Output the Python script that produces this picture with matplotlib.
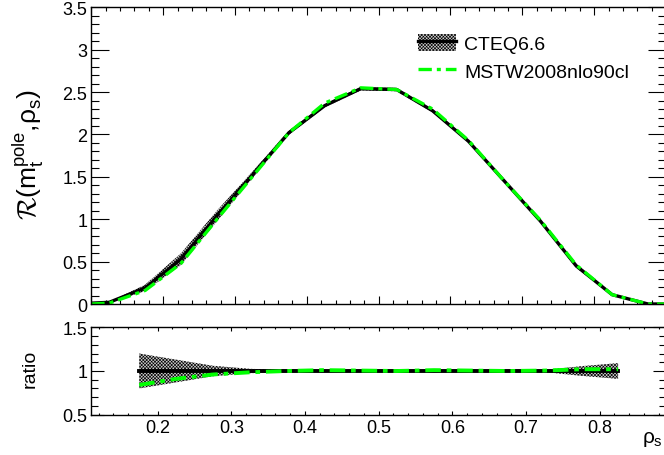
"""
CTEQ6.6 vs MSTW2008nlo90cl: R(m_t^pole, rho_s) with ratio panel.
Run: python plot.py  ->  out.png
"""
import matplotlib
matplotlib.use("Agg")
import matplotlib.pyplot as plt
from matplotlib.patches import Patch
from matplotlib.lines import Line2D
from matplotlib.ticker import MultipleLocator, FuncFormatter

# --- data ---
rho = [0.1, 0.125, 0.175, 0.225, 0.275, 0.325, 0.375, 0.425, 0.475, 0.525,
       0.575, 0.625, 0.675, 0.725, 0.775, 0.825, 0.875, 0.9]
cteq = [0.01, 0.02, 0.19, 0.53, 1.04, 1.53, 2.02, 2.34, 2.54, 2.53,
        2.28, 1.92, 1.45, 0.98, 0.45, 0.11, 0.0, 0.0]
cteq_relerr = [0.20, 0.20, 0.20, 0.13, 0.06, 0.025, 0.012, 0.008, 0.008, 0.008,
               0.008, 0.008, 0.008, 0.012, 0.055, 0.09, 0.09, 0.09]
mstw = [0.0, 0.01, 0.16, 0.48, 1.00, 1.51, 2.02, 2.37, 2.55, 2.53,
        2.30, 1.93, 1.45, 0.99, 0.46, 0.11, 0.0, 0.0]

rho_ratio = [0.175, 0.225, 0.275, 0.325, 0.375, 0.425, 0.475, 0.525,
             0.575, 0.625, 0.675, 0.725, 0.775, 0.825]
ratio_err = [0.20, 0.13, 0.06, 0.025, 0.012, 0.008, 0.008, 0.008,
             0.008, 0.008, 0.008, 0.012, 0.055, 0.09]
ratio_mstw = [0.84, 0.91, 0.96, 0.985, 1.0, 1.01, 1.005, 1.0,
              1.01, 1.005, 1.0, 1.005, 1.02, 1.02]

# --- style ---
plt.rcParams["font.family"] = "Liberation Sans"
plt.rcParams["mathtext.fontset"] = "custom"
plt.rcParams["mathtext.rm"] = "Liberation Sans"
plt.rcParams["mathtext.it"] = "Liberation Sans"
plt.rcParams["mathtext.bf"] = "Liberation Sans:bold"
plt.rcParams["mathtext.cal"] = "cmsy10"
plt.rcParams["font.size"] = 13
plt.rcParams["hatch.linewidth"] = 0.45
plt.rcParams["axes.linewidth"] = 1.0

GREEN = "#00ff00"
DASHDOT = (4.0, 1.5, 1.2, 1.5)
HATCH = "xxxxxxxxxx"
BAND_FACE = "#c8c8c8"

fig = plt.figure(figsize=(6.64, 4.56), dpi=100)
W, H = 664.0, 456.0
ax_top = fig.add_axes([91.3 / W, 1 - 305 / H, (666 - 91.3) / W, (305 - 8.3) / H])
ax_rat = fig.add_axes([91.3 / W, 1 - 415.7 / H, (666 - 91.3) / W, (415.7 - 328.3) / H])

fmt = FuncFormatter(lambda v, p: f"{v:g}")

# --- top panel ---
lo = [c * (1 - e) for c, e in zip(cteq, cteq_relerr)]
hi = [c * (1 + e) for c, e in zip(cteq, cteq_relerr)]
ax_top.fill_between(rho, lo, hi, facecolor=BAND_FACE, edgecolor="black", hatch=HATCH, linewidth=0)
ax_top.plot(rho, cteq, color="black", lw=2.4)
ax_top.plot(rho, mstw, color=GREEN, lw=2.4, dashes=DASHDOT)
ax_top.set_xlim(0.1, 0.9)
ax_top.set_ylim(0, 3.5)
ax_top.xaxis.set_major_locator(MultipleLocator(0.1))
ax_top.xaxis.set_minor_locator(MultipleLocator(0.02))
ax_top.yaxis.set_major_locator(MultipleLocator(0.5))
ax_top.yaxis.set_minor_locator(MultipleLocator(0.1))
ax_top.yaxis.set_major_formatter(fmt)
ax_top.tick_params(axis="x", which="both", direction="in", top=True, bottom=True, labelbottom=False, width=0.8)
ax_top.tick_params(axis="x", which="major", length=6)
ax_top.tick_params(axis="x", which="minor", length=3)
ax_top.tick_params(axis="y", which="both", direction="in", left=True, right=True, width=0.8, pad=3)
ax_top.tick_params(axis="y", which="major", length=13, labelsize=13)
ax_top.tick_params(axis="y", which="minor", length=6)

band_h = Patch(facecolor=BAND_FACE, edgecolor="black", hatch=HATCH, linewidth=0)
cteq_h = Line2D([], [], color="black", lw=2.4)
mstw_h = Line2D([], [], color=GREEN, lw=2.4, dashes=DASHDOT)
fig.legend([(band_h, cteq_h), mstw_h], ["CTEQ6.6", "MSTW2008nlo90cl"],
           loc="upper left", bbox_to_anchor=(400 / W, 1 - 17 / H), frameon=False,
           fontsize=14, handlelength=2.0, handleheight=1.0, labelspacing=0.45, handletextpad=0.4)

fig.text(28 / W, 1 - 155 / H, r"$\mathcal{R}(\mathrm{m}_\mathrm{t}^\mathrm{pole}{,}\rho_\mathrm{s})$",
         rotation=90, ha="center", va="center", fontsize=19)

# --- ratio panel ---
rlo = [1 - e for e in ratio_err]
rhi = [1 + e for e in ratio_err]
ax_rat.fill_between(rho_ratio, rlo, rhi, facecolor=BAND_FACE, edgecolor="black", hatch=HATCH, linewidth=0)
ax_rat.plot(rho_ratio, [1.0] * len(rho_ratio), color="black", lw=2.8)
ax_rat.plot(rho_ratio, ratio_mstw, color=GREEN, lw=2.8, dashes=DASHDOT)
ax_rat.set_xlim(0.11, 0.89)
ax_rat.set_ylim(0.5, 1.5)
ax_rat.xaxis.set_major_locator(MultipleLocator(0.1))
ax_rat.xaxis.set_minor_locator(MultipleLocator(0.02))
ax_rat.xaxis.set_major_formatter(fmt)
ax_rat.yaxis.set_major_locator(MultipleLocator(0.5))
ax_rat.yaxis.set_minor_locator(MultipleLocator(0.1))
ax_rat.yaxis.set_major_formatter(fmt)
ax_rat.tick_params(axis="x", which="both", direction="in", top=True, bottom=True, width=0.8, pad=3, labelsize=13)
ax_rat.tick_params(axis="x", which="major", length=3)
ax_rat.tick_params(axis="x", which="minor", length=1.5)
ax_rat.tick_params(axis="y", which="both", direction="in", left=True, right=True, width=0.8, pad=3, labelsize=13)
ax_rat.tick_params(axis="y", which="major", length=9.5)
ax_rat.tick_params(axis="y", which="minor", length=5)

fig.text(30 / W, 1 - 369 / H, "ratio", rotation=90, ha="center", va="center", fontsize=14)
fig.text(663 / W, 1 - 440 / H, r"$\rho_\mathrm{s}$", ha="right", va="center", fontsize=15)

fig.savefig("out.png", dpi=100)
